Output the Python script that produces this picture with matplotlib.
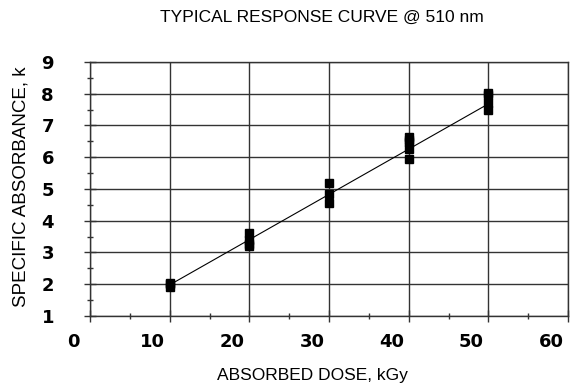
import matplotlib
matplotlib.use("Agg")
import matplotlib.pyplot as plt
import matplotlib.transforms as mtransforms
from matplotlib.ticker import MultipleLocator

dose = [10, 10, 10,
        20, 20, 20, 20,
        30, 30, 30,
        40, 40, 40, 40, 40,
        50, 50, 50, 50]
absorbance = [1.90, 2.00, 2.05,
              3.20, 3.27, 3.39, 3.62,
              4.55, 4.83, 5.20,
              5.94, 6.25, 6.49, 6.55, 6.63,
              7.48, 7.72, 7.95, 8.01]
fit_x = [10, 50]
fit_y = [1.98, 7.68]
xticks = [0, 10, 20, 30, 40, 50, 60]
yticks = [1, 2, 3, 4, 5, 6, 7, 8, 9]

fig = plt.figure(figsize=(5.7, 3.89), dpi=100)
ax = fig.add_axes([0.158, 0.1877, 0.8385, 0.653])

ax.set_xlim(0, 60)
ax.set_ylim(1, 9)
ax.set_xticks(xticks)
ax.set_yticks(yticks)
ax.xaxis.set_minor_locator(MultipleLocator(5))
ax.yaxis.set_minor_locator(MultipleLocator(0.5))
ax.grid(True, which="major", color="#333333", linewidth=1.0)
ax.set_axisbelow(True)

ax.plot(fit_x, fit_y, color="black", linewidth=0.8, zorder=3)
ax.plot(dose, absorbance, linestyle="none", marker="s", markersize=6,
        color="black", zorder=4)

for s in ax.spines.values():
    s.set_color("#333333")
    s.set_linewidth(1.0)

ax.tick_params(axis="both", which="both", direction="inout", color="#333333")
ax.tick_params(axis="both", which="major", length=8, width=1)
ax.tick_params(axis="both", which="minor", length=5, width=1)
ax.tick_params(axis="x", which="major", pad=8)
ax.tick_params(axis="y", which="major", pad=22)

ax.set_xticklabels([str(v) for v in xticks], fontsize=13, fontweight="bold",
                   family="DejaVu Sans")
ax.set_yticklabels([str(v) for v in yticks], fontsize=13, fontweight="bold",
                   family="DejaVu Sans")
offset = mtransforms.ScaledTranslation(-17 / 100, 0, fig.dpi_scale_trans)
for lab in ax.get_xticklabels():
    lab.set_transform(lab.get_transform() + offset)

fig.text(0.565, 0.955, "TYPICAL RESPONSE CURVE @ 510 nm", ha="center", va="center",
         fontsize=12.5, family="Liberation Sans")
fig.text(0.549, 0.035, "ABSORBED DOSE, kGy", ha="center", va="center",
         fontsize=12.5, family="Liberation Sans")
fig.text(0.037, 0.52, "SPECIFIC ABSORBANCE, k", ha="center", va="center",
         rotation=90, fontsize=13.5, family="Liberation Sans")

fig.savefig("out.png", dpi=100)
